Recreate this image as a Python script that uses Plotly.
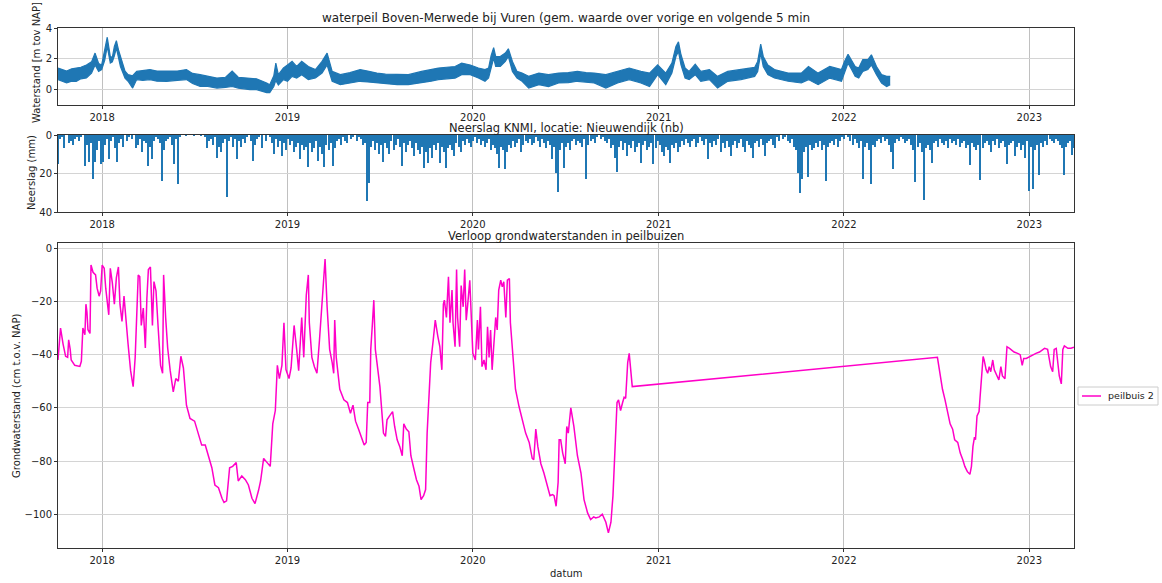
import pandas as pd
import plotly.graph_objects as go

BASE = pd.Timestamp("2017-10-01")

# ---------------- water level Boven-Merwede (day offset from 2017-10-01, band low/high in m) -------------
wl_day = [5, 14, 22, 32, 41, 50, 61, 71, 78, 85, 91, 97, 102, 108, 112, 116, 120, 124, 128, 137, 143, 152,
          160, 172, 186, 200, 219, 240, 258, 270, 285, 300, 318, 335, 348, 360, 383, 396, 416, 422, 430, 434,
          439, 449, 457, 466, 475, 485, 498, 512, 525, 535, 545, 561, 580, 600, 615, 633, 650, 673, 695, 721,
          740, 754, 770, 787, 800, 817, 833, 846, 853, 858, 863, 867, 876, 886, 892, 900, 909, 919, 932, 952,
          971, 991, 1010, 1028, 1045, 1061, 1084, 1107, 1130, 1153, 1170, 1186, 1202, 1214, 1222, 1227, 1232,
          1240, 1248, 1260, 1271, 1288, 1304, 1324, 1350, 1370, 1377, 1383, 1389, 1394, 1403, 1416, 1443, 1469,
          1483, 1502, 1525, 1548, 1554, 1561, 1568, 1575, 1582, 1590, 1600, 1607, 1617, 1627, 1637, 1644]
wl_low = [0.65, 0.55, 0.43, 0.55, 0.54, 0.7, 0.75, 1.07, 1.6, 1.18, 1.3, 1.9, 2.8, 1.72, 1.8, 2.2, 2.7, 2.1,
          1.5, 0.75, 0.54, 0.1, 0.65, 0.6, 0.65, 0.55, 0.54, 0.6, 0.65, 0.4, 0.2, 0.2, 0.1, 0.15, 0.2, 0.1,
          0.0, 0.0, -0.2, -0.2, 0.2, 0.6, 0.3, 0.65, 0.54, 0.86, 0.75, 0.97, 0.65, 0.75, 1.07, 1.6, 0.54, 0.32,
          0.45, 0.54, 0.5, 0.43, 0.4, 0.32, 0.32, 0.43, 0.55, 0.65, 0.7, 0.75, 0.97, 0.97, 0.75, 0.54, 0.75,
          1.4, 2.04, 1.5, 1.5, 1.83, 2.15, 1.18, 0.75, 0.54, 0.1, 0.32, 0.2, 0.43, 0.45, 0.54, 0.5, 0.43, 0.1,
          0.43, 0.65, 0.43, 0.2, 0.97, 0.32, 1.07, 2.15, 2.47, 1.6, 0.75, 0.65, 0.97, 0.54, 0.65, 0.1, 0.54,
          0.65, 0.8, 0.86, 1.18, 2.37, 1.5, 0.97, 0.75, 0.54, 0.43, 0.65, 0.32, 0.75, 0.54, 1.07, 1.72, 1.3,
          0.86, 0.75, 1.18, 1.3, 1.6, 0.97, 0.43, 0.2, 0.32]
wl_high = [1.4, 1.3, 1.2, 1.35, 1.4, 1.45, 1.6, 1.8, 2.37, 1.7, 1.6, 2.6, 3.4, 2.15, 2.1, 2.8, 3.18, 2.6,
           2.15, 1.2, 0.97, 0.9, 1.18, 1.25, 1.3, 1.2, 1.18, 1.2, 1.3, 1.05, 0.97, 0.85, 0.75, 0.8, 1.2, 0.8,
           0.75, 0.7, 0.43, 0.32, 0.9, 1.72, 0.97, 1.4, 1.6, 1.83, 1.5, 1.83, 1.5, 1.3, 1.83, 2.37, 1.18, 0.97,
           1.1, 1.3, 1.2, 1.07, 1.0, 0.97, 0.97, 1.18, 1.3, 1.4, 1.45, 1.5, 1.72, 1.6, 1.4, 1.3, 1.4, 2.2, 2.73,
           2.15, 2.15, 2.37, 2.65, 1.83, 1.18, 1.07, 0.86, 1.07, 0.97, 1.07, 1.1, 1.18, 1.1, 1.07, 0.97, 1.18,
           1.4, 1.18, 1.07, 1.6, 1.07, 1.72, 2.8, 3.1, 2.26, 1.4, 1.18, 1.65, 1.18, 1.3, 0.86, 1.18, 1.3, 1.4,
           1.44, 1.83, 2.95, 2.15, 1.6, 1.3, 1.07, 1.07, 1.5, 1.07, 1.5, 1.3, 1.83, 2.3, 1.94, 1.5, 1.4, 1.94,
           1.94, 2.26, 1.5, 0.97, 0.86, 0.86]

# ---------------- precipitation KNMI Nieuwendijk (mm, one value per 4 days from 2017-10-07) -------------
rain_start = "2017-10-07"
rain_mm = [
    15, 2, 1, 7, 0, 4, 3, 5, 2, 1,
    3, 1, 0, 16, 5, 14, 4, 23, 14, 8,
    3, 15, 14, 5, 2, 12.6, 3, 1, 7, 14,
    4, 2, 6, 0, 3, 1, 2, 0, 7, 5,
    2, 9, 3, 4, 16, 6, 12.6, 3, 1, 2,
    4, 24, 8, 3, 2, 1, 5, 15, 2, 25.5,
    1, 0, 0, 0.5, 0, 0, 0, 0.5, 0, 0,
    0.5, 0, 1, 7, 3, 2, 5, 1, 12, 6,
    9, 4, 2, 32, 3, 1, 6, 2, 12.6, 3,
    6, 2, 4, 1, 0, 3, 13.4, 5, 2, 1,
    7, 0, 3, 0, 1, 4, 10, 2, 6, 3,
    11, 4, 8, 2, 5, 3, 9, 6, 4, 12.6,
    5, 8, 6, 16.4, 4, 9, 7, 3, 13.4, 6,
    10, 16.4, 5, 8, 4, 16, 7, 3, 2, 5,
    1, 3, 4, 0, 2, 1, 0, 3, 1, 2,
    5, 4, 34.5, 25, 6, 3, 8, 4, 10, 5,
    13.8, 4, 7, 10, 3, 8, 5, 2, 6, 16,
    4, 9, 5, 3, 7, 11, 4, 8, 10, 6,
    17.4, 9, 14.3, 7, 12, 5, 8, 4, 14.3, 6,
    9, 17, 7, 5, 8, 11, 4, 6, 9, 3,
    5, 2, 4, 6, 3, 1, 4, 2, 5, 3,
    6, 4, 2, 8, 5, 7, 10, 17, 6, 8,
    17.8, 9, 5, 7, 3, 6, 4, 2, 9, 5,
    3, 4, 2, 5, 4, 1, 3, 6, 2, 4,
    7, 3, 5, 12.6, 6, 19.8, 29.8, 8, 4, 17,
    6, 4, 8, 3, 2, 5, 3, 4, 6, 2,
    22.6, 5, 3, 2, 4, 1, 0, 2, 1, 3,
    4, 2, 7, 5, 11.7, 19, 6, 3, 8, 4,
    11, 5, 7, 3, 9, 6, 4, 14.3, 5, 3,
    8, 6, 4, 15, 7, 3, 5, 9, 11, 6,
    8, 14.3, 5, 7, 4, 9, 6, 3, 5, 2,
    4, 6, 3, 2, 6, 4, 1, 3, 5, 2,
    12.6, 4, 6, 3, 5, 2, 9, 4, 7, 3,
    6, 11, 5, 3, 7, 4, 2, 6, 9, 3,
    5, 7, 11.7, 4, 3, 6, 2, 5, 11, 4,
    3, 2, 5, 7, 1, 3, 0, 2, 1, 3,
    4, 2, 6, 8, 19.5, 30.3, 23, 9, 6, 22,
    5, 8, 7, 4, 6, 3, 8, 5, 24, 6,
    4, 3, 5, 2, 6, 3, 1, 2, 0, 1,
    3, 5, 2, 4, 7, 3, 22.6, 6, 4, 8,
    25.5, 5, 6, 3, 2, 4, 1, 3, 2, 5,
    9, 17.8, 4, 2, 3, 1, 2, 4, 3, 2,
    5, 8, 24.6, 6, 4, 9, 33.8, 7, 5, 8,
    14.3, 4, 3, 6, 2, 4, 5, 3, 7, 2,
    4, 3, 5, 2, 6, 4, 3, 7, 5, 15.7,
    4, 6, 8, 5, 23.3, 7, 4, 3, 5, 9,
    3, 5, 2, 7, 4, 3, 6, 15, 5, 4,
    3, 11, 6, 4, 8, 5, 12, 3, 29, 6,
    27.8, 8, 5, 21, 4, 6, 3, 5, 2, 3,
    4, 2, 3, 5, 7, 20.7, 6, 4, 3, 10.5,
    7,
]

# ---------------- groundwater peilbuis 2 (day offset from 2017-10-01, cm t.o.v. NAP) -------------
gw_day = [5, 10, 15, 20, 24, 26, 29, 31, 38, 48, 51, 54, 58, 60, 62, 64, 68, 70, 74, 79, 82, 86, 89, 92, 96,
          99, 105, 108, 112, 116, 120, 124, 127, 131, 135, 139, 143, 148, 153, 157, 160, 163, 166, 169, 173,
          177, 180, 183, 187, 191, 194, 198, 202, 207, 211, 213, 217, 221, 226, 232, 237, 242, 247, 252, 258,
          265, 274, 281, 288, 295, 301, 308, 314, 321, 328, 332, 337, 343, 349, 356, 360, 367, 374, 380, 387,
          393, 400, 404, 410, 416, 423, 428, 433, 437, 441, 446, 450, 454, 460, 464, 470, 475, 479, 485, 489,
          494, 498, 500, 505, 510, 515, 520, 525, 528, 531, 535, 540, 545, 548, 550, 553, 560, 568, 575, 581,
          586, 591, 597, 604, 608, 612, 615, 619, 621, 624, 627, 630, 635, 639, 643, 646, 650, 653, 658, 664,
          668, 673, 678, 683, 686, 691, 696, 700, 706, 711, 716, 720, 725, 729, 732, 735, 739, 744, 748, 753,
          757, 761, 764, 766, 770, 774, 777, 781, 783, 787, 790, 792, 796, 799, 803, 806, 809, 812, 816, 819,
          822, 827, 831, 833, 837, 840, 844, 848, 851, 854, 857, 860, 864, 867, 870, 873, 877, 880, 883, 887,
          890, 894, 896, 902, 906, 913, 919, 926, 933, 939, 942, 946, 950, 956, 962, 969, 974, 979, 982, 986,
          990, 992, 995, 999, 1004, 1007, 1010, 1015, 1021, 1028, 1035, 1041, 1048, 1054, 1060, 1064, 1071,
          1077, 1084, 1089, 1094, 1098, 1102, 1106, 1109, 1113, 1117, 1120, 1123, 1127, 1130, 1133, 1136,
          1737, 1742, 1747, 1752, 1757, 1762, 1767, 1771, 1777, 1782, 1787, 1791, 1796, 1801, 1804, 1807,
          1810, 1812, 1815, 1819, 1821, 1824, 1827, 1829, 1833, 1836, 1839, 1842, 1846, 1849, 1854, 1858,
          1862, 1865, 1870, 1874, 1879, 1883, 1888, 1895, 1900, 1904, 1907, 1912, 1918, 1925, 1931, 1938,
          1948, 1954, 1960, 1964, 1967, 1971, 1974, 1977, 1981, 1984, 1987, 1994, 2000, 2006]
gw_cm = [-42, -30, -36, -40.6, -41, -34.4, -38, -42, -44, -44.4, -42.5, -30, -32.5, -21, -24, -30.6, -32,
         -6.3, -9, -10, -15, -18, -16, -6.3, -7.5, -15, -25, -7.5, -13, -21, -11, -7, -21, -27.5, -18, -29,
         -36, -46, -52, -41, -27.5, -10, -10.6, -29, -22.5, -37.5, -19, -8, -7, -29, -12.5, -16, -29, -44,
         -47, -10, -26, -37.5, -46, -54, -49, -50, -40.6, -45, -59, -64, -65, -70, -74, -74, -77.5, -82.5,
         -89, -90, -94, -95.6, -95, -82.5, -82, -80.6, -87.5, -85.6, -87, -89, -94, -96, -91, -87.5, -79,
         -80.6, -82, -66, -61, -44, -49, -44, -28, -45.6, -49, -45, -29, -38, -46, -26, -41, -17.6, -10, -28,
         -41, -44.5, -47, -34.5, -22, -14, -4, -22, -38, -43, -47, -27, -41, -53, -57, -58, -62, -59, -65,
         -68, -72, -74, -73, -58, -58, -38, -29, -19.5, -38, -47, -52, -62, -69.5, -70.7, -64.5, -63, -61.4,
         -67, -72, -74.5, -78, -66, -68, -69, -78, -83, -87, -89.5, -94.5, -93, -90.7, -69.5, -57, -43,
         -34.5, -27, -33, -37, -45.7, -21, -19.5, -26, -10.7, -28, -15.7, -28, -37, -8, -26, -37, -14, -22,
         -8, -27, -21, -12, -26, -39.5, -42, -27, -38, -22, -44.5, -42, -45.7, -29.5, -41, -30.7, -45.7,
         -35.7, -26, -30.7, -15.7, -12, -14.5, -12.6, -26, -12, -11.4, -28, -44.5, -53, -59.5, -64.5, -69.5,
         -73, -79, -79.5, -68, -74.5, -81, -84.5, -89.5, -93, -92.6, -93, -97, -88, -72, -72, -77, -81, -67,
         -69.5, -60, -67, -78, -84.5, -94.5, -99.5, -102, -101, -101.4, -101, -100, -103, -107, -103, -93,
         -78, -58, -57, -61, -58, -56, -56.4, -43, -39.5, -45.7, -52,
         -41, -47, -53, -57, -62, -66, -68, -72, -73, -77, -79.5, -82, -84, -85, -82, -74.5, -71, -72, -63,
         -61.4, -56, -47, -40.7, -42, -45.7, -47, -44.5, -46.4, -42, -45.7, -48, -49.5, -44.5, -48, -49, -37,
         -37.6, -38.2, -39, -39.5, -40, -44, -41.4, -41.4, -40.7, -40, -39.5, -39, -37.6, -38, -44.5, -46.4,
         -38, -37.6, -43, -48, -51, -38, -36.7, -37.6, -37.6, -37.2]

year_ticks = ["2018-01-01", "2019-01-01", "2020-01-01", "2021-01-01", "2022-01-01", "2023-01-01"]
year_labels = ["2018", "2019", "2020", "2021", "2022", "2023"]

wl_x = BASE + pd.to_timedelta(wl_day, unit="D")
gw_x = BASE + pd.to_timedelta(gw_day, unit="D")
rain_x = pd.date_range(rain_start, periods=len(rain_mm), freq="4D")

BLUE = "#1f77b4"
MAGENTA = "#ff00c8"
FONT = "DejaVu Sans"
TXT = "#222222"

# figure geometry (pixels)
W, H = 1162, 583
ML, MR, MT, MB = 58, 88, 28, 35
PW, PH = W - ML - MR, H - MT - MB


def px_x(p):
    return (p - ML) / PW


def px_y(p):
    return (H - MB - p) / PH


fig = go.Figure()

fig.add_trace(go.Scatter(x=wl_x, y=wl_high, mode="lines", line=dict(color=BLUE, width=1.2),
                         xaxis="x", yaxis="y", showlegend=False, hoverinfo="skip"))
fig.add_trace(go.Scatter(x=wl_x, y=wl_low, mode="lines", line=dict(color=BLUE, width=1.2),
                         fill="tonexty", fillcolor=BLUE, xaxis="x", yaxis="y", showlegend=False))

fig.add_trace(go.Bar(x=rain_x, y=rain_mm, marker=dict(color=BLUE, line=dict(width=0)),
                     width=2.4 * 86400000, xaxis="x2", yaxis="y2", showlegend=False))

fig.add_trace(go.Scatter(x=gw_x, y=gw_cm, mode="lines", name="peilbuis 2",
                         line=dict(color=MAGENTA, width=1.5), xaxis="x3", yaxis="y3", showlegend=False))

x_range = [gw_x[0], gw_x[-1]]


def xax(anchor):
    return dict(type="date", range=x_range, anchor=anchor, tickvals=year_ticks, ticktext=year_labels,
                ticks="outside", ticklen=3, tickcolor="#333", showgrid=True, gridcolor="#c0c0c0",
                gridwidth=1, showline=True, linecolor="#333", linewidth=1, mirror=True,
                tickfont=dict(size=10, color=TXT, family=FONT), zeroline=False)


def yax(anchor, domain, rng, tv, tt):
    return dict(domain=domain, anchor=anchor, range=rng, tickvals=tv, ticktext=tt, ticks="outside",
                ticklen=3, tickcolor="#333", showgrid=True, gridcolor="#d4d4d4", gridwidth=1.2,
                showline=True, linecolor="#333", linewidth=1, mirror=True, zeroline=False,
                tickfont=dict(size=10, color=TXT, family=FONT))


def label(text, x, y, angle=0, size=10, anchor="center"):
    return dict(text=text, xref="paper", yref="paper", x=px_x(x), y=px_y(y), xanchor=anchor,
                yanchor="middle", showarrow=False, textangle=angle,
                font=dict(size=size, color=TXT, family=FONT))


annotations = [
    label("waterpeil Boven-Merwede bij Vuren (gem. waarde over vorige en volgende 5 min", 566, 18, size=12),
    label("Neerslag KNMI, locatie: Nieuwendijk (nb)", 566, 127.5, size=11.5),
    label("Verloop grondwaterstanden in peilbuizen", 566, 235.5, size=11.5),
    label("Waterstand [m tov NAP]", 37, 63, angle=-90),
    label("Neerslag (mm)", 31, 173, angle=-90),
    label("Grondwaterstand (cm t.o.v. NAP)", 17, 396, angle=-90),
    label("datum", 566, 573),
    label("peilbuis 2", 1106, 396, anchor="left", size=9.5),
]

shapes = [
    dict(type="rect", xref="paper", yref="paper", x0=px_x(1078), x1=px_x(1158), y0=px_y(387), y1=px_y(405),
         line=dict(color="#cccccc", width=1), fillcolor="white", layer="above"),
    dict(type="line", xref="paper", yref="paper", x0=px_x(1082), x1=px_x(1101), y0=px_y(396), y1=px_y(396),
         line=dict(color=MAGENTA, width=1.5), layer="above"),
]

fig.update_layout(
    width=W, height=H,
    margin=dict(l=ML, r=MR, t=MT, b=MB, autoexpand=False),
    paper_bgcolor="white", plot_bgcolor="white",
    font=dict(family=FONT, color=TXT),
    bargap=0,
    showlegend=False,
    xaxis=xax("y"), xaxis2=xax("y2"), xaxis3=xax("y3"),
    yaxis=yax("x", [px_y(105), px_y(28)], [-1, 4], [0, 2, 4], ["0", "2", "4"]),
    yaxis2=yax("x2", [px_y(212), px_y(135)], [40, 0], [0, 20, 40], ["0", "20", "40"]),
    yaxis3=yax("x3", [0.0, px_y(243)], [-112.7, 2.0], [0, -20, -40, -60, -80, -100],
               ["0", "\u221220", "\u221240", "\u221260", "\u221280", "\u2212100"]),
    annotations=annotations,
    shapes=shapes,
)

fig.write_html("out.html")
